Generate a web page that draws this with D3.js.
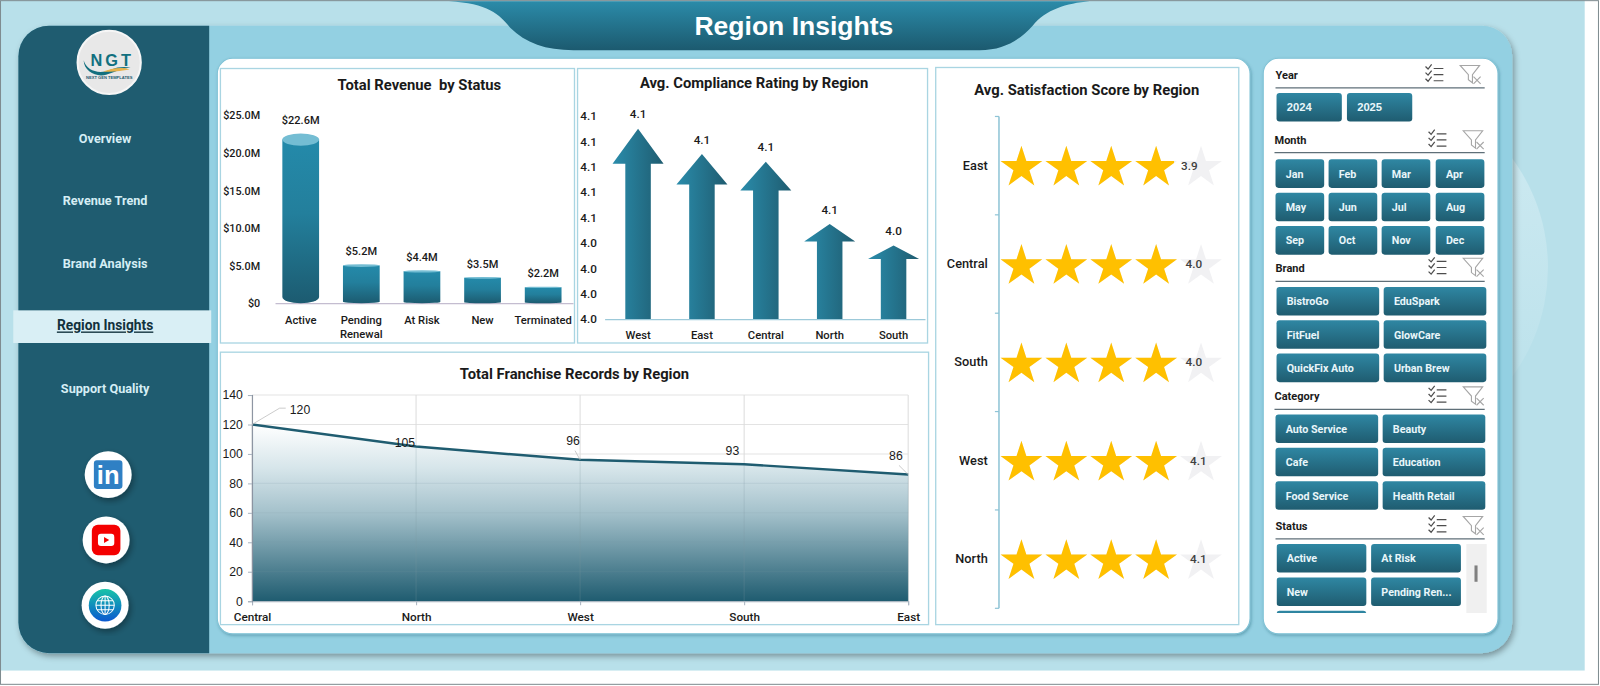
<!DOCTYPE html>
<html>
<head>
<meta charset="utf-8">
<script src="https://cdn.jsdelivr.net/npm/d3@7"></script>
<style>
html,body{margin:0;padding:0;background:#fff;overflow:hidden}
svg{display:block}
.nar{font-family:"Roboto",sans-serif;font-weight:700}
.med{font-family:"Roboto",sans-serif;font-weight:500}
.ari{font-family:"Liberation Sans",Arial,sans-serif}
</style>
</head>
<body>
<script>
// chart values
var statusNames = ["Active","Pending Renewal","At Risk","New","Terminated"];
var statusRevenue = [22.6,5.2,4.4,3.5,2.2];
var revenueTicks = [0,5,10,15,20,25];

var complianceRegions = ["West","East","Central","North","South"];
var complianceRating = [4.088,4.078,4.075,4.0504,4.042];
var complianceTicks = [4.013,4.023,4.033,4.043,4.053,4.063,4.073,4.083,4.093];

var satisfactionRegions = ["East","Central","South","West","North"];
var satisfactionScore = [3.9,4.0,4.0,4.1,4.1];

var recordRegions = ["Central","North","West","South","East"];
var recordCounts = [120,105,96,93,86];
var recordTicks = [0,20,40,60,80,100,120,140];

// side panels
var navItems = ["Overview","Revenue Trend","Brand Analysis","Region Insights","Support Quality"];
var activeNav = "Region Insights";
var years = ["2024","2025"];
var months = ["Jan","Feb","Mar","Apr","May","Jun","Jul","Aug","Sep","Oct","Nov","Dec"];
var brands = ["BistroGo","EduSpark","FitFuel","GlowCare","QuickFix Auto","Urban Brew"];
var categories = ["Auto Service","Beauty","Cafe","Education","Food Service","Health Retail"];
var statuses = ["Active","At Risk","New","Pending Ren...",""];

var teal = "#1f5c70", ink = "#1a1a1a";

var svg = d3.select("body").append("svg")
	.attr("width",1600).attr("height",686)
	.attr("viewBox","0 0 1568 672");
var defs = svg.append("defs");

function grad(id,dir,stops){
	var g = defs.append("linearGradient").attr("id",id)
		.attr("x1",0).attr("y1",0)
		.attr("x2",dir=="h"?1:0).attr("y2",dir=="h"?0:1);
	stops.forEach((s)=>{
		g.append("stop").attr("offset",s[0]).attr("stop-color",s[1]);
	});
}
grad("btn","v",[[0,"#2f87a3"],[1,"#1f5c70"]]);
grad("cyl","v",[[0,"#248aaa"],[0.45,"#237f9c"],[1,"#1c5b70"]]);
grad("arrow","h",[[0,"#2a8cab"],[1,"#1f5c70"]]);
grad("fall","v",[[0,"#ffffff"],[0.25,"#d6e5ea"],[0.5,"#a4c1cb"],[1,"#1f5c70"]]);
grad("head","v",[[0,"#2b8ba9"],[1,"#1c5a6f"]]);
grad("globe","v",[[0,"#18c4a8"],[1,"#0b58d0"]]);
grad("ghost","v",[[0,"#d0ebf2"],[1,"#b8e0ea"]]);

var sh = defs.append("filter").attr("id","shadow")
	.attr("x","-10%").attr("y","-10%").attr("width","125%").attr("height","125%");
sh.append("feDropShadow").attr("dx",2).attr("dy",3).attr("stdDeviation",3)
	.attr("flood-color","#000").attr("flood-opacity",0.35);
var sh2 = defs.append("filter").attr("id","soft")
	.attr("x","-5%").attr("y","-5%").attr("width","110%").attr("height","110%");
sh2.append("feDropShadow").attr("dx",1).attr("dy",1.5).attr("stdDeviation",1.5)
	.attr("flood-color","#0d4a5e").attr("flood-opacity",0.35);

// background
svg.append("rect").attr("width",1568).attr("height",672).attr("fill","#fff");
svg.append("rect").attr("width",1553).attr("height",657).attr("fill","#b8e0ea");
svg.append("circle").attr("cx",1336).attr("cy",262).attr("r",181).attr("fill","url(#ghost)");
svg.append("rect").attr("x",0.5).attr("y",0.5).attr("width",1566).attr("height",670)
	.attr("fill","none").attr("stroke","#7f8c90");

// main panel + sidebar
svg.append("rect").attr("x",18).attr("y",25).attr("width",1464).attr("height",615).attr("rx",30)
	.attr("fill","#93d0e2").attr("filter","url(#shadow)");
svg.append("path")
	.attr("d","M205,25H48A30,30 0 0 0 18,55V610A30,30 0 0 0 48,640H205Z")
	.attr("fill",teal);

// title shape
svg.append("path")
	.attr("d","M440,1C478,3 490,14 500,27C515,42 535,49 562,49H960C985,49 1000,38 1012,25C1025,9 1045,3 1068,1Z")
	.attr("fill","url(#head)");
svg.append("text").attr("class","ari").attr("x",778).attr("y",34)
	.attr("text-anchor","middle").attr("font-size",26).attr("font-weight",700)
	.attr("fill","#fff").text("Region Insights");

// nav
var navY = d3.scalePoint().domain(navItems).range([136,381]);
svg.append("rect").attr("x",13).attr("y",304).attr("width",194).attr("height",32).attr("fill","#d9eff5");
svg.selectAll(".nav").data(navItems).enter().append("text")
	.attr("class","nar nav")
	.attr("x",103).attr("y",(d)=>navY(d)+4)
	.attr("text-anchor","middle").attr("font-size",(d)=>d==activeNav?13.5:12.4)
	.attr("fill",(d)=>d==activeNav?"#12323d":"#d5eef5")
	.style("text-decoration",(d)=>d==activeNav?"underline":"none")
	.text((d)=>d);

// logo
var logo = svg.append("g").attr("transform","translate(107,61)");
logo.append("circle").attr("r",31).attr("fill","#e8e8e8").attr("stroke","#f6f6f6").attr("stroke-width",2);
logo.append("text").attr("class","ari").attr("text-anchor","middle").attr("x",3).attr("y",4)
	.attr("font-size",16).attr("font-weight",700).attr("letter-spacing",3).attr("fill","#12707f").text("NGT");
logo.append("path").attr("d","M-25,-2C-22,9 -9,12 2,7C8,4 16,4 21,5C13,6 6,9 -3,12C-12,15 -25,9 -25,-2Z").attr("fill","#13707f");
logo.append("path").attr("d","M-6,9C2,6 12,4 20,7C12,8 4,10 -6,9Z").attr("fill","#e7b24a");
logo.append("text").attr("class","ari").attr("text-anchor","middle").attr("y",16.5)
	.attr("font-size",4).attr("font-weight",700).attr("fill","#1f5c70").text("NEXT GEN TEMPLATES");

// social icons
function badge(x,y){
	var g = svg.append("g").attr("transform","translate("+x+","+y+")");
	g.append("circle").attr("r",23).attr("fill","#fff").attr("filter","url(#shadow)");
	return g;
}
var li = badge(106,465);
li.append("rect").attr("x",-14).attr("y",-14).attr("width",28).attr("height",28).attr("rx",3).attr("fill","#2f80c4");
li.append("text").attr("class","ari").attr("text-anchor","middle").attr("y",9)
	.attr("font-size",25).attr("font-weight",700).attr("fill","#fff").text("in");
var yt = badge(104,529);
yt.append("rect").attr("x",-14).attr("y",-15).attr("width",28).attr("height",30).attr("rx",6).attr("fill","#f40000");
yt.append("rect").attr("x",-8).attr("y",-6).attr("width",16).attr("height",12).attr("rx",3).attr("fill","#fff");
yt.append("path").attr("d","M-2,-3L3,0L-2,3Z").attr("fill","#f40000");
var gl = badge(103,593);
gl.append("circle").attr("r",16).attr("fill","url(#globe)");
var gg = gl.append("g").attr("fill","none").attr("stroke","#fff").attr("stroke-width",1);
gg.append("circle").attr("r",9);
gg.append("ellipse").attr("rx",4).attr("ry",9);
gg.append("path").attr("d","M-9,0H9M-8,-4.5H8M-8,4.5H8M0,-9V9");

// white cards and chart frames
[[213,57,1012,564],[1238,57,230,564]].forEach((c)=>{
	svg.append("rect").attr("x",c[0]).attr("y",c[1]).attr("width",c[2]).attr("height",c[3]).attr("rx",15)
		.attr("fill","#fff").attr("stroke","#7fc2d6").attr("stroke-width",1).attr("filter","url(#soft)");
});
[[216,67,347,269],[566,67,343,269],[917,66,297,546],[216,345,694,267]].forEach((c)=>{
	svg.append("rect").attr("x",c[0]).attr("y",c[1]).attr("width",c[2]).attr("height",c[3])
		.attr("fill","#fff").attr("stroke","#a9d5e2").attr("stroke-width",1.3);
});

function title(txt,x,y){
	svg.append("text").attr("class","nar").attr("x",x).attr("y",y)
		.attr("text-anchor","middle").attr("font-size",14.5).attr("fill",ink)
		.style("white-space","pre").text(txt);
}

// revenue cylinders
title("Total Revenue  by Status",411,88);
var xRev = d3.scaleBand().domain(statusNames).range([265,562]);
var yRev = d3.scaleLinear().domain([0,25]).range([297,113]);
var revAxis = svg.append("g").attr("transform","translate(255,0)")
	.call(d3.axisLeft(yRev).tickValues(revenueTicks).tickSize(0).tickPadding(0)
		.tickFormat((d)=>d==0?"$0":"$"+d.toFixed(1)+"M"));
revAxis.select(".domain").remove();
revAxis.selectAll("text").attr("class","med").attr("font-size",10.6).attr("fill",ink);
svg.append("line").attr("x1",270).attr("x2",562).attr("y1",297.5).attr("y2",297.5)
	.attr("stroke","#c4bdd0").attr("stroke-width",1.2);

function capRy(v){ return (yRev(0)-yRev(v))/166*6; }
var cyl = svg.selectAll(".cyl").data(statusNames).enter().append("g").attr("class","cyl");
cyl.append("path").attr("d",(d,i)=>{
	var w = 18, cx = xRev(d)+xRev.bandwidth()/2, ry = capRy(statusRevenue[i]);
	var t = yRev(statusRevenue[i])+ry, b = yRev(0);
	return "M"+(cx-w)+","+t+"V"+(b-ry)+"A"+w+","+ry+" 0 0 0 "+(cx+w)+","+(b-ry)+"V"+t+"Z";
}).attr("fill","url(#cyl)");
cyl.append("ellipse")
	.attr("cx",(d)=>xRev(d)+xRev.bandwidth()/2)
	.attr("cy",(d,i)=>yRev(statusRevenue[i])+capRy(statusRevenue[i]))
	.attr("rx",18)
	.attr("ry",(d,i)=>capRy(statusRevenue[i]))
	.attr("fill","#74bdd3");
cyl.append("text").attr("class","med")
	.attr("x",(d)=>xRev(d)+xRev.bandwidth()/2)
	.attr("y",(d,i)=>yRev(statusRevenue[i])-9)
	.attr("text-anchor","middle").attr("font-size",10.8).attr("fill",ink)
	.text((d,i)=>"$"+statusRevenue[i].toFixed(1)+"M");
svg.selectAll(".revx").data(statusNames).enter().append("text")
	.attr("class","med revx").attr("text-anchor","middle").attr("font-size",11).attr("fill",ink)
	.attr("x",(d)=>xRev(d)+xRev.bandwidth()/2).attr("y",317)
	.each(function(d){
		var parts = d=="Pending Renewal" ? d.split(" ") : [d];
		var el = d3.select(this);
		parts.forEach((p,i)=>{
			el.append("tspan").attr("x",xRev(d)+xRev.bandwidth()/2).attr("dy",i?14:0).text(p);
		});
	});

// compliance arrows
title("Avg. Compliance Rating by Region",739,86);
var xCom = d3.scaleBand().domain(complianceRegions).range([594,907]);
var yCom = d3.scaleLinear().domain([complianceTicks[0],complianceTicks[8]]).range([312.5,113.5]);
var comAxis = svg.append("g").attr("transform","translate(585,0)")
	.call(d3.axisLeft(yCom).tickValues(complianceTicks).tickSize(0).tickPadding(0).tickFormat(d3.format(".1f")));
comAxis.select(".domain").remove();
comAxis.selectAll("text").attr("class","med").attr("font-size",11.5).attr("fill",ink);
svg.append("line").attr("x1",593).attr("x2",907).attr("y1",313).attr("y2",313).attr("stroke","#9cc9d9").attr("stroke-width",1.2);
var arr = svg.selectAll(".arr").data(complianceRegions).enter().append("g").attr("class","arr");
arr.append("path").attr("d",(d,i)=>{
	var cx = xCom(d)+xCom.bandwidth()/2, t = yCom(complianceRating[i]), b = yCom.range()[0];
	var h = (b-t)*0.184;
	return "M"+(cx-12.5)+","+b+"V"+(t+h)+"H"+(cx-25)+"L"+cx+","+t+"L"+(cx+25)+","+(t+h)+"H"+(cx+12.5)+"V"+b+"Z";
}).attr("fill","url(#arrow)");
arr.append("text").attr("class","med")
	.attr("x",(d)=>xCom(d)+xCom.bandwidth()/2)
	.attr("y",(d,i)=>yCom(complianceRating[i])-10)
	.attr("text-anchor","middle").attr("font-size",11.5).attr("fill",ink)
	.text((d,i)=>d3.format(".1f")(complianceRating[i]));
svg.selectAll(".comx").data(complianceRegions).enter().append("text")
	.attr("class","med comx").attr("text-anchor","middle").attr("font-size",11).attr("fill",ink)
	.attr("x",(d)=>xCom(d)+xCom.bandwidth()/2).attr("y",332).text((d)=>d);

// satisfaction stars
title("Avg. Satisfaction Score by Region",1065,93);
var yStar = d3.scaleBand().domain(satisfactionRegions).range([114,596]);
var xStar = d3.scaleLinear().domain([0,5]).range([979,1199]);
var starAxis = svg.append("g").attr("transform","translate(979,0)")
	.call(d3.axisLeft(yStar).tickSize(0).tickPadding(11));
starAxis.select(".domain").remove();
starAxis.selectAll("text").attr("class","med").attr("font-size",12.5).attr("fill",ink);
svg.append("line").attr("x1",979).attr("x2",979).attr("y1",114).attr("y2",596).attr("stroke","#8fc4d6").attr("stroke-width",1.5);
svg.selectAll(".stick").data(d3.range(6)).enter().append("line")
	.attr("x1",975).attr("x2",979)
	.attr("y1",(d)=>114+d*yStar.step()).attr("y2",(d)=>114+d*yStar.step())
	.attr("stroke","#8fc4d6").attr("stroke-width",1.2);
var starGen = d3.symbol().type(d3.symbolStar).size(520);
satisfactionRegions.forEach((r,i)=>{
	var cy = yStar(r)+yStar.bandwidth()/2;
	var clipId = "clip"+i;
	// the fifth star stays empty in the picture, even at 4.1
	defs.append("clipPath").attr("id",clipId).append("rect")
		.attr("x",979).attr("y",cy-30).attr("height",60)
		.attr("width",xStar(Math.min(satisfactionScore[i],4))-979);
	var units = d3.range(5);
	svg.selectAll(".sb"+i).data(units).enter().append("path")
		.attr("class","sb"+i).attr("d",starGen).attr("fill","#f1f1f3")
		.attr("transform",(d)=>"translate("+xStar(d+0.5)+","+(cy+2)+")");
	svg.append("g").attr("clip-path","url(#"+clipId+")")
		.selectAll("path").data(units).enter().append("path")
		.attr("d",starGen).attr("fill","#ffc000")
		.attr("transform",(d)=>"translate("+xStar(d+0.5)+","+(cy+2)+")");
	svg.append("text").attr("class","med")
		.attr("x",xStar(satisfactionScore[i])+15).attr("y",cy+4)
		.attr("text-anchor","middle").attr("font-size",11.5).attr("fill","#404040")
		.text(d3.format(".1f")(satisfactionScore[i]));
});

// franchise records area
title("Total Franchise Records by Region",563,371);
var xRec = d3.scalePoint().domain(recordRegions).range([247,890]);
var yRec = d3.scaleLinear().domain([0,140]).range([589,387]);
svg.append("g").selectAll("line").data(recordTicks).enter().append("line")
	.attr("x1",247).attr("x2",890).attr("y1",(d)=>yRec(d)).attr("y2",(d)=>yRec(d))
	.attr("stroke","#e3e3e3").attr("stroke-width",1);
svg.append("g").selectAll("line").data(recordRegions).enter().append("line")
	.attr("x1",(d)=>xRec(d)).attr("x2",(d)=>xRec(d)).attr("y1",387).attr("y2",589)
	.attr("stroke","#dcdcdc").attr("stroke-width",1);
var area = d3.area().x((d)=>xRec(d)).y0(589).y1((d,i)=>yRec(recordCounts[i]));
var line = d3.line().x((d)=>xRec(d)).y((d,i)=>yRec(recordCounts[i]));
defs.select("#fall").attr("gradientUnits","userSpaceOnUse")
	.attr("x1",0).attr("y1",yRec(120)).attr("x2",0).attr("y2",589);
svg.append("path").attr("d",area(recordRegions)).attr("fill","url(#fall)");
// gridlines show faintly through the fill
svg.selectAll(".hover").data(recordTicks.slice(1,5)).enter().append("line")
	.attr("x1",247).attr("x2",890).attr("y1",(d)=>yRec(d)).attr("y2",(d)=>yRec(d))
	.attr("stroke","#7f9aa5").attr("stroke-opacity",0.15);
svg.selectAll(".vover").data(recordRegions).enter().append("line")
	.attr("x1",(d)=>xRec(d)).attr("x2",(d)=>xRec(d)).attr("y1",(d,i)=>yRec(recordCounts[i])).attr("y2",589)
	.attr("stroke","#7f9aa5").attr("stroke-opacity",0.25);
svg.append("path").attr("d",line(recordRegions)).attr("fill","none").attr("stroke",teal).attr("stroke-width",2.4);
var gx = svg.append("g").attr("transform","translate(0,589)")
	.call(d3.axisBottom(xRec).tickSize(4).tickPadding(7));
gx.select(".domain").attr("stroke","#a9b4c0");
gx.selectAll("line").attr("stroke","#a9b4c0");
gx.selectAll("text").attr("class","med").attr("font-size",11.5).attr("fill",ink);
var gy = svg.append("g").attr("transform","translate(247,0)")
	.call(d3.axisLeft(yRec).tickValues(recordTicks).tickSize(4).tickPadding(5));
gy.select(".domain").attr("stroke","#8a93a0");
gy.selectAll("line").attr("stroke","#a9b4c0");
gy.selectAll("text").attr("class","ari").attr("font-size",12).attr("fill",ink);
// label nudges, leader lines as in the picture
var recNudge = [[47,-10],[-11,0],[-7,-14.5],[-11.5,-9.5],[-12,-14.5]];
svg.selectAll(".recl").data(recordRegions).enter().append("text")
	.attr("class","ari recl").attr("text-anchor","middle").attr("font-size",12).attr("fill",ink)
	.attr("x",(d,i)=>xRec(d)+recNudge[i][0]).attr("y",(d,i)=>yRec(recordCounts[i])+recNudge[i][1]).text((d,i)=>recordCounts[i]);
svg.append("path").attr("fill","none").attr("stroke","#bfbfbf").attr("stroke-width",0.8)
	.attr("d","M"+xRec("Central")+","+yRec(120)+"L"+(xRec("Central")+27)+","+(yRec(120)-16)+"h6"
		+"M"+xRec("West")+","+yRec(96)+"l-5,-9"+"M"+xRec("East")+","+yRec(86)+"l-9,-9");

// slicers
function slicer(name,items,o){
	svg.append("text").attr("class","nar").attr("x",o.tx).attr("y",o.ty)
		.attr("font-size",10.8).attr("fill",ink).text(name);
	svg.append("line").attr("x1",o.tx).attr("x2",1455).attr("y1",o.ly).attr("y2",o.ly)
		.attr("stroke","#5f6f78").attr("stroke-width",1.2);
	var ic = svg.append("g").attr("transform","translate("+o.ix+","+(o.ty-5)+")")
		.attr("fill","none").attr("stroke","#4d4d4d").attr("stroke-width",1.2);
	ic.append("path").attr("d","M-9,-7l2.5,2.5l3.5,-4.5M-9,-1l2.5,2.5l3.5,-4.5M-9,5l2.5,2.5l3.5,-4.5M-1,-5H8.5M-1,1H8.5M-1,7H8.5");
	var fc = svg.append("g").attr("transform","translate("+(o.ix+35)+","+(o.ty-5)+")")
		.attr("fill","none").attr("stroke","#a6a6a6").attr("stroke-width",1.1);
	fc.append("path").attr("d","M-10,-8H9L2,1V9L-2,6V1Z");
	fc.append("path").attr("d","M3,3L10,10M10,3L3,10");
	var clipped = o.clip;
	var g = svg.append("g");
	if(clipped){
		defs.append("clipPath").attr("id",clipped).append("rect")
			.attr("x",o.x[0]).attr("y",o.by).attr("width",220).attr("height",o.clipH);
		g.attr("clip-path","url(#"+clipped+")");
	}
	var b = g.selectAll("g").data(items).enter().append("g")
		.attr("transform",(d,i)=>"translate("+o.x[i%o.x.length]+","+(o.by+Math.floor(i/o.x.length)*32.7)+")");
	b.append("rect").attr("width",o.w).attr("height",28).attr("rx",3).attr("fill","url(#btn)");
	b.append("text").attr("class",o.arial?"ari":"nar").attr("x",o.pad).attr("y",18)
		.attr("font-size",o.arial?11:10.5).attr("font-weight",700).attr("fill","#e9f6fa").text((d)=>d);
}
slicer("Year",years,{tx:1250,ty:77,ly:86,ix:1406,by:91,x:[1251,1320],w:64,pad:10,arial:true});
slicer("Month",months,{tx:1249,ty:141,ly:149.5,ix:1409,by:156,x:[1250,1302,1354,1407],w:47.7,pad:10});
slicer("Brand",brands,{tx:1250,ty:266,ly:275.5,ix:1409,by:281,x:[1251,1356],w:100.6,pad:10});
slicer("Category",categories,{tx:1249,ty:392,ly:401,ix:1409,by:406,x:[1250,1355],w:100.6,pad:10});
slicer("Status",statuses,{tx:1250,ty:519,ly:528,ix:1409,by:533,x:[1251,1343.7],w:88,pad:10,clip:"statusClip",clipH:67.6});
svg.append("rect").attr("x",1437).attr("y",533).attr("width",20).attr("height",67.6).attr("fill","#f0f0f0");
svg.append("rect").attr("x",1445).attr("y",554).attr("width",3).attr("height",16).attr("fill","#808080");
</script>
</body>
</html>
